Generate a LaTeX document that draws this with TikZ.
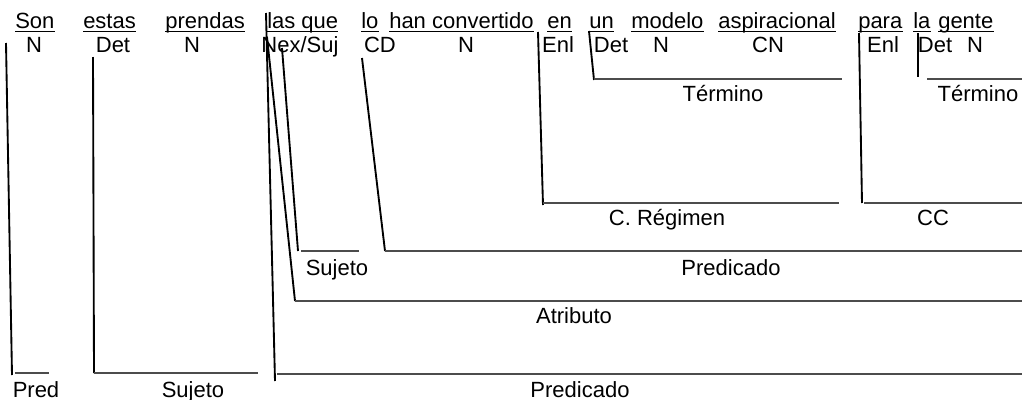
\documentclass[tikz,border=0pt]{standalone}
\usepackage{fontspec}
\setmainfont{Liberation Sans}
\begin{document}
\begin{tikzpicture}[x=0.75pt,y=-0.75pt,
  txt/.style={inner sep=0pt,font=\fontsize{16.5pt}{19pt}\selectfont},
  word/.style={txt,anchor=base west},
  lab/.style={txt,anchor=base},
  uline/.style={line width=0.9pt,black},
  vline/.style={line width=1.4pt,black},
  hline/.style={line width=0.8pt,black!70}]
\useasboundingbox (0,0) rectangle (1022,400);
% row 1 words
\foreach \nm/\x/\w in {w1/15/Son,w2/83/estas,w3/165/prendas,w4/267/las que,w5/361/lo,w6/389/han convertido,w7/547/en,w8/589/un,w9/631/modelo,w10/718/aspiracional,w11/858/para,w12/913/la,w13/938/gente}{
  \node[word] (\nm) at (\x,28) {\w};
  \draw[uline] ([yshift=-2.4pt]\nm.base west) -- ([yshift=-2.4pt]\nm.base east);
}
% row 2 labels
\foreach \nm/\x/\w in {c1/34/N,c2/113/Det,c3/192/N,c4/300/{Nex/Suj},c5/380/CD,c6/466/N,c7/558/Enl,c8/611/Det,c9/661/N,c10/768/CN,c11/883/Enl,c12/935/Det,c13/975/N}{
  \node[lab] (\nm) at (\x,52) {\w};
}
% coordinates
\coordinate (a1) at (6,43);    \coordinate (a2) at (12,375);
\coordinate (b1) at (93,57);   \coordinate (b2) at (94,373);
\coordinate (p1) at (266,13);  \coordinate (p2) at (275,381);
\coordinate (t1) at (267,37);  \coordinate (t2) at (295,301);
\coordinate (s1) at (282,48);  \coordinate (s2) at (298,251);
\coordinate (d1) at (362,58);  \coordinate (d2) at (385,251);
\coordinate (e1) at (538,32);  \coordinate (e2) at (543,205);
\coordinate (u1) at (589,31);  \coordinate (u2) at (594,80);
\coordinate (r1) at (859,33);  \coordinate (r2) at (862,203);
\coordinate (l1) at (918,33);  \coordinate (l2) at (918,77);
% vertical strokes
\foreach \a/\b in {a1/a2,b1/b2,p1/p2,t1/t2,s1/s2,d1/d2,e1/e2,u1/u2,r1/r2,l1/l2}{
  \draw[vline] (\a) -- (\b);
}
% horizontal lines
\coordinate (h1a) at (15,373);  \coordinate (h1b) at (49,373);
\coordinate (h2a) at (94,373);  \coordinate (h2b) at (258,373);
\coordinate (h3a) at (277,374); \coordinate (h3b) at (1022,374);
\coordinate (h4a) at (295,301); \coordinate (h4b) at (1022,301);
\coordinate (h5a) at (301,251); \coordinate (h5b) at (359,251);
\coordinate (h6a) at (385,251); \coordinate (h6b) at (1022,251);
\coordinate (h7a) at (543,203); \coordinate (h7b) at (839,203);
\coordinate (h8a) at (864,203); \coordinate (h8b) at (1022,203);
\coordinate (h9a) at (594,79);  \coordinate (h9b) at (842,79);
\coordinate (h10a) at (927,79); \coordinate (h10b) at (1022,79);
\foreach \a/\b in {h1a/h1b,h2a/h2b,h3a/h3b,h4a/h4b,h5a/h5b,h6a/h6b,h7a/h7b,h8a/h8b,h9a/h9b,h10a/h10b}{
  \draw[hline] (\a) -- (\b);
}
% function labels
\node[lab] (f1) at (36,397) {Pred};
\node[lab] (f2) at (193,397) {Sujeto};
\node[lab] (f3) at (580,397) {Predicado};
\node[lab] (f4) at (574,323) {Atributo};
\node[lab] (f5) at (337,275) {Sujeto};
\node[lab] (f6) at (731,275) {Predicado};
\node[lab] (f7) at (667,225) {C. Régimen};
\node[lab] (f8) at (933,225) {CC};
\node[lab] (f9) at (723,101) {Término};
\node[lab] (f10) at (978,101) {Término};
\end{tikzpicture}
\end{document}
